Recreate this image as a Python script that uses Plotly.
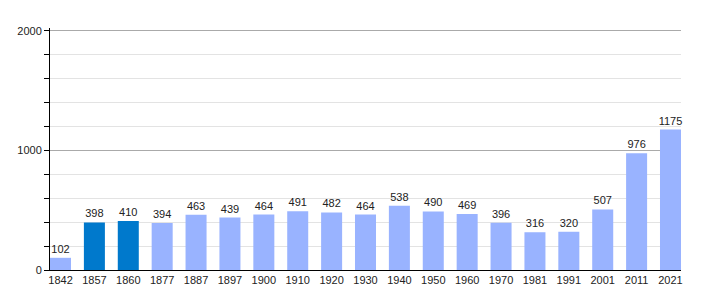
import plotly.graph_objects as go

years = ["1842", "1857", "1860", "1877", "1887", "1897", "1900", "1910", "1920", "1930",
         "1940", "1950", "1960", "1970", "1981", "1991", "2001", "2011", "2021"]
population = [102, 398, 410, 394, 463, 439, 464, 491, 482, 464,
              538, 490, 469, 396, 316, 320, 507, 976, 1175]
highlighted = ["1857", "1860"]

light = "#99b3ff"
dark = "#0079cc"
colors = [dark if y in highlighted else light for y in years]

fig = go.Figure(go.Bar(
    x=years, y=population,
    marker=dict(color=colors, line=dict(width=0)),
    text=[str(v) for v in population],
    textposition="outside",
    constraintext="none",
    textfont=dict(family="Liberation Sans, Arial, sans-serif", size=11, color="#222"),
    cliponaxis=False,
))

fig.update_layout(
    width=710, height=300,
    margin=dict(l=50, r=29, t=28, b=30),
    paper_bgcolor="white", plot_bgcolor="white",
    bargap=0.38,
    showlegend=False,
    font=dict(family="Liberation Sans, Arial, sans-serif", size=11, color="#222"),
)
fig.update_xaxes(
    type="category",
    range=[-0.31, 18.31],
    showline=True, linecolor="black", linewidth=1,
    ticks="", showgrid=False,
    tickfont=dict(size=11, color="#222"),
)
fig.update_yaxes(
    range=[0, 2025],
    dtick=1000, tick0=0,
    showline=True, linecolor="black", linewidth=1,
    ticks="outside", ticklen=5, tickcolor="black",
    showgrid=True, gridcolor="#aaaaaa", gridwidth=1,
    zeroline=False,
    tickfont=dict(size=11, color="#222"),
    minor=dict(dtick=200, tick0=0, ticks="outside", ticklen=5, tickcolor="black",
               showgrid=True, gridcolor="#e3e3e3", gridwidth=1),
)

fig.write_html("out.html")
